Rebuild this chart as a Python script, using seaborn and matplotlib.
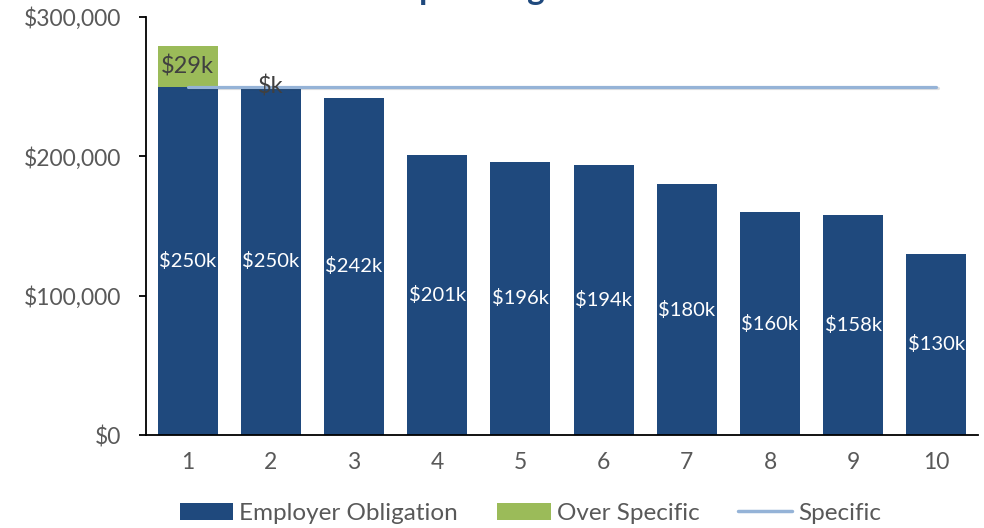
# datos y visualizacion
import numpy as np
import pandas as pd
import matplotlib
matplotlib.use("Agg")
import matplotlib.pyplot as plt
import matplotlib.patheffects as pe
from matplotlib.patches import Patch
from matplotlib.lines import Line2D
from matplotlib.ticker import FuncFormatter
import seaborn as sns

# datos
claimants = ["1", "2", "3", "4", "5", "6", "7", "8", "9", "10"]
obligation = [250000, 250000, 242000, 201000, 196000, 194000, 180000, 160000, 158000, 130000]
over_specific = [29000, 0, np.nan, np.nan, np.nan, np.nan, np.nan, np.nan, np.nan, np.nan]
specific = [250000] * 10

title = "Top 10 High Cost Claimants"

blue = "#1F497D"
green = "#9BBB59"
line_col = "#95B3D7"
gray = "#595959"

sns.set_style("white")
plt.rcParams["font.family"] = ["Lato", "DejaVu Sans"]

df = pd.DataFrame({
    "claimant": claimants,
    "obligation": obligation,
    "over": over_specific,
    "specific": specific,
})
df["total"] = df["obligation"] + df["over"].fillna(0)
df["pos"] = np.arange(len(df))

fig = plt.figure(figsize=(9.84, 5.28), dpi=100)
ax = fig.add_axes([0.1484, 0.1761, 0.8455, 0.7917])

# verde = total (debajo), azul encima
sns.barplot(data=df, x="claimant", y="total", color=green, saturation=1,
            width=0.72, ax=ax, edgecolor="none", linewidth=0)
sns.barplot(data=df, x="claimant", y="obligation", color=blue, saturation=1,
            width=0.72, ax=ax, edgecolor="none", linewidth=0)

sns.lineplot(data=df, x="pos", y="specific", color=line_col, linewidth=2.3, ax=ax,
             path_effects=[pe.SimpleLineShadow(offset=(0.8, -0.8), alpha=0.12), pe.Normal()])

# etiquetas azules en el centro
ax.bar_label(ax.containers[1], labels=[f"${v/1000:.0f}k" for v in df["obligation"]],
             label_type="center", color="white", fontsize=14.5)

# etiquetas del exceso
for i, row in df.iterrows():
    if pd.notna(row["over"]):
        txt = f"${row['over']/1000:.0f}k" if row["over"] else "$k"
        ax.text(row["pos"], row["obligation"] + row["over"] / 2, txt,
                ha="center", va="center", color="#404040", fontsize=17)

ax.set_xlim(-0.5, 9.5)
ax.set_ylim(0, 300000)
ax.set_yticks([0, 100000, 200000, 300000])
ax.yaxis.set_major_formatter(FuncFormatter(lambda v, p: f"${v:,.0f}"))
ax.set_xlabel("")
ax.set_ylabel("")

for s in ["top", "right"]:
    ax.spines[s].set_visible(False)
for s in ["left", "bottom"]:
    ax.spines[s].set_color("black")
    ax.spines[s].set_linewidth(1.3)

ax.tick_params(axis="y", left=True, length=5, width=1.3, color="black", pad=13,
               labelsize=16.5, labelcolor=gray)
ax.tick_params(axis="x", bottom=False, length=0, pad=12, labelsize=16.5, labelcolor=gray)

handles = [
    Patch(facecolor=blue, edgecolor="none"),
    Patch(facecolor=green, edgecolor="none"),
    Line2D([0], [0], color=line_col, linewidth=2.5),
]
fig.legend(handles, ["Employer Obligation", "Over Specific", "Specific"],
           loc="center", bbox_to_anchor=(0.539, 0.028), ncol=3, frameon=False,
           fontsize=17.5, labelcolor=gray, handlelength=2.2, handleheight=0.75,
           columnspacing=1.6, handletextpad=0.25)

# titulo (cortado en el original)
fig.text(0.386, 1.0, title, ha="left", va="baseline", fontsize=24,
         fontweight="bold", color=blue)

fig.savefig("out.png", dpi=100)
